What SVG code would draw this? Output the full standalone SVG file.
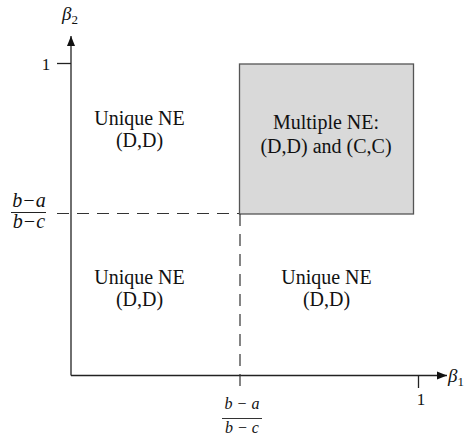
<svg xmlns="http://www.w3.org/2000/svg" width="470" height="438" viewBox="0 0 470 438">
<style>
text{font-family:"Liberation Serif","Times New Roman",serif;fill:#111;}
.lbl{font-size:20px;text-anchor:middle;}
.it{font-style:italic;}
.ax{stroke:#222;stroke-width:1.3;fill:none;}
.dash{stroke:#333;stroke-width:1.2;stroke-dasharray:12,8;fill:none;}
</style>
<defs>
<marker id="arr" viewBox="0 0 10 10" refX="10" refY="5" markerWidth="10" markerHeight="10" markerUnits="userSpaceOnUse" orient="auto">
<path d="M0,1 L10,5 L0,9 Z" fill="#111"/>
</marker>
</defs>
<rect width="470" height="438" fill="#fff"/>
<g id="region-multiple">
<rect x="239.5" y="64" width="174" height="150" fill="#d9d9d9" stroke="#555" stroke-width="1.3"/>
<text class="lbl" x="326" y="129">Multiple NE:</text>
<text class="lbl" x="326" y="153">(D,D) and (C,C)</text>
</g>
<g id="connectors">
<line class="ax" x1="71" y1="375.5" x2="71" y2="36" marker-end="url(#arr)"/>
<line class="ax" x1="71" y1="375.5" x2="447" y2="375.5" marker-end="url(#arr)"/>
<line class="ax" x1="57" y1="63.5" x2="71" y2="63.5"/>
<line class="ax" x1="418.5" y1="375" x2="418.5" y2="388"/>
<line class="dash" x1="57" y1="213.5" x2="239" y2="213.5"/>
<line class="dash" x1="240" y1="214" x2="240" y2="388"/>
</g>
<g id="region-ul">
<text class="lbl" x="139.5" y="125">Unique NE</text>
<text class="lbl" x="139.5" y="147">(D,D)</text>
</g>
<g id="region-ll">
<text class="lbl" x="139.5" y="284">Unique NE</text>
<text class="lbl" x="139.5" y="306">(D,D)</text>
</g>
<g id="region-lr">
<text class="lbl" x="326.5" y="284">Unique NE</text>
<text class="lbl" x="326.5" y="306">(D,D)</text>
</g>
<g id="axis-labels">
<text class="it" x="62" y="20" font-size="19">β<tspan font-style="normal" font-size="13" dy="4">2</tspan></text>
<text class="it" x="448" y="382" font-size="19">β<tspan font-style="normal" font-size="13" dy="4">1</tspan></text>
<text x="46" y="70" font-size="17" text-anchor="middle">1</text>
<text x="421" y="405" font-size="17" text-anchor="middle">1</text>
<text class="it" x="29" y="207" font-size="20" text-anchor="middle">b−a</text>
<line x1="11" y1="212.5" x2="46" y2="212.5" stroke="#222" stroke-width="1"/>
<text class="it" x="29" y="228" font-size="20" text-anchor="middle">b−c</text>
<text class="it" x="242" y="409" font-size="16" text-anchor="middle" fill="#333">b − a</text>
<line x1="222" y1="418.5" x2="262" y2="418.5" stroke="#333" stroke-width="1"/>
<text class="it" x="242" y="433" font-size="16" text-anchor="middle" fill="#333">b − c</text>
</g>
</svg>
